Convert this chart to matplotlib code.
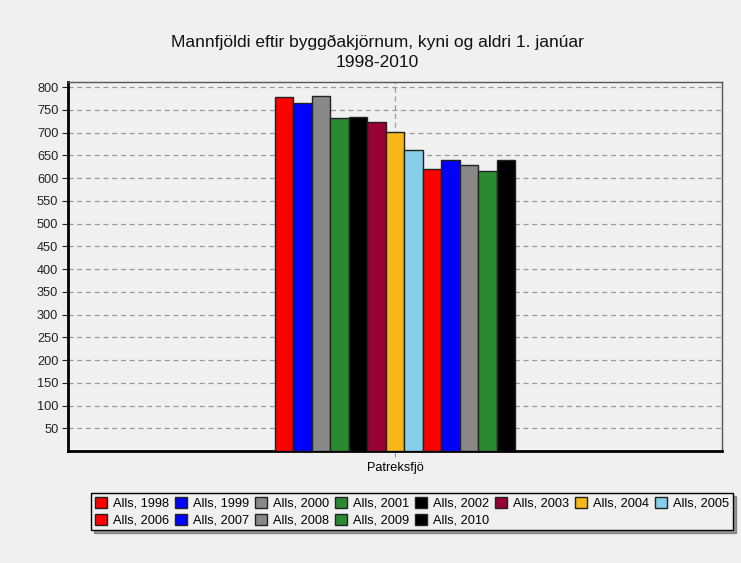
import numpy as np
import matplotlib
matplotlib.use("Agg")
import matplotlib.pyplot as plt

# === Data ===
category = ["Patreksfjö"]
years = ["1998", "1999", "2000", "2001", "2002", "2003", "2004",
         "2005", "2006", "2007", "2008", "2009", "2010"]
values = [777, 765, 780, 732, 735, 724, 701, 662, 619, 640, 629, 616, 640]
colors = ["#ff0000", "#0000ff", "#888888", "#2a8a32", "#000000", "#990033",
          "#f7b718", "#87ceeb", "#ff0000", "#0000ff", "#888888", "#2a8a32",
          "#000000"]
yticks = list(range(50, 801, 50))

BG = "#f0f0f0"
plt.rcParams.update({
    "font.family": ["Liberation Sans", "DejaVu Sans"],
    "font.size": 9.2,
})

fig = plt.figure(figsize=(7.41, 5.63), dpi=100, facecolor=BG)
ax = fig.add_axes([68/741, 1-451/563, 654/741, 369/563], facecolor=BG)

n = len(values)
group_w = 0.737
w = group_w / n
xs = -group_w/2 + w/2 + np.arange(n) * w
bars = ax.bar(xs, values, w, color=colors, edgecolor="#222222", linewidth=1.0,
              zorder=3)

ax.set_xlim(-1, 1)
ax.set_ylim(0, 811)
ax.set_yticks(yticks)
ax.set_xticks([0])
ax.set_xticklabels(category)
ax.grid(axis="both", color="#999999", linestyle=(0, (4, 3)), linewidth=0.9,
        zorder=0)
ax.tick_params(axis="y", length=4, width=0.8, pad=3, colors="#222222")
ax.tick_params(axis="x", length=4, width=0.8, pad=4, color="#999999")

for s in ["left", "bottom"]:
    ax.spines[s].set_linewidth(2.0)
    ax.spines[s].set_color("black")
for s in ["top", "right"]:
    ax.spines[s].set_linewidth(1.0)
    ax.spines[s].set_color("#555555")

fig.text(377/741, 1-47.5/563, "Mannfjöldi eftir byggðakjörnum, kyni og aldri 1. janúar",
         ha="center", va="baseline", fontsize=12.5, color="#111111")
fig.text(377/741, 1-67/563, "1998-2010", ha="center", va="baseline",
         fontsize=12.5, color="#111111")

# legend: row-major order across 8 columns
order = [0, 8, 1, 9, 2, 10, 3, 11, 4, 12, 5, 6, 7]
handles = [bars[i] for i in order]
labels = ["Alls, " + years[i] for i in order]
leg = fig.legend(handles, labels, ncol=8, loc="upper left",
                 bbox_to_anchor=(91/741, 1-493/563), frameon=True,
                 fancybox=False, shadow=True, facecolor=BG, edgecolor="black",
                 handlelength=0.95, handleheight=0.95, handletextpad=0.5,
                 columnspacing=0.42, labelspacing=0.3, borderpad=0.3,
                 borderaxespad=0, fontsize=9.2)
leg.get_frame().set_linewidth(1.0)

fig.savefig("out.png", dpi=100, facecolor=BG)
